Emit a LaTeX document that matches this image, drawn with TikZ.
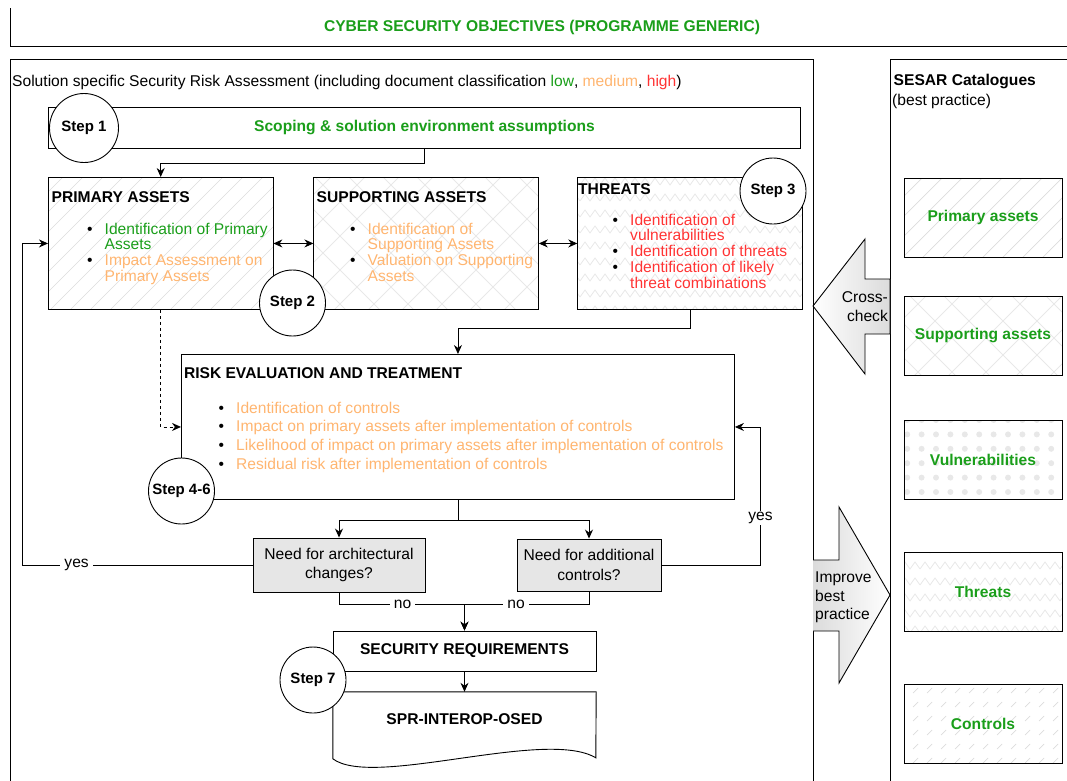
\documentclass[tikz,border=0pt]{standalone}
\usepackage{fontspec}
\setmainfont{Liberation Sans}
\usetikzlibrary{arrows.meta, positioning, patterns, shapes}

\definecolor{low}{HTML}{1A9E1A}
\definecolor{med}{HTML}{FFB570}
\definecolor{high}{HTML}{FF3333}
\definecolor{decfill}{HTML}{E6E6E6}
\definecolor{ptn}{HTML}{DCDCDC}
\definecolor{ptnlight}{HTML}{E8E8E8}

\newcommand{\fs}{\fontsize{15.6pt}{15.75pt}\selectfont}
% bullet item and its continuation line
\newcommand{\li}[2]{\rule{0pt}{12pt}\makebox[17.5pt][l]{\textbullet}\textcolor{#1}{#2}}
\newcommand{\lc}[2]{\rule{0pt}{12pt}\hspace*{17.5pt}\textcolor{#1}{#2}}

% fill patterns
\pgfdeclarepatternformonly{diaglines}{\pgfqpoint{-1pt}{-1pt}}{\pgfqpoint{21pt}{21pt}}{\pgfqpoint{20pt}{20pt}}{%
  \pgfsetlinewidth{0.7pt}\pgfpathmoveto{\pgfqpoint{0pt}{0pt}}\pgfpathlineto{\pgfqpoint{20.1pt}{20.1pt}}\pgfusepath{stroke}}
\pgfdeclarepatternformonly{crossgrid}{\pgfqpoint{-1pt}{-1pt}}{\pgfqpoint{35pt}{35pt}}{\pgfqpoint{34pt}{34pt}}{%
  \pgfsetlinewidth{0.8pt}\pgfpathmoveto{\pgfqpoint{0pt}{0pt}}\pgfpathlineto{\pgfqpoint{34.1pt}{34.1pt}}%
  \pgfpathmoveto{\pgfqpoint{0pt}{34pt}}\pgfpathlineto{\pgfqpoint{34.1pt}{-0.1pt}}\pgfusepath{stroke}}
\pgfdeclarepatternformonly{zigzag}{\pgfqpoint{-1pt}{-1pt}}{\pgfqpoint{21pt}{17pt}}{\pgfqpoint{20pt}{16pt}}{%
  \pgfsetlinewidth{0.8pt}\pgfpathmoveto{\pgfqpoint{0pt}{3pt}}\pgfpathlineto{\pgfqpoint{5pt}{10pt}}%
  \pgfpathlineto{\pgfqpoint{10pt}{3pt}}\pgfpathlineto{\pgfqpoint{15pt}{10pt}}\pgfpathlineto{\pgfqpoint{20pt}{3pt}}\pgfusepath{stroke}}
\pgfdeclarepatternformonly{bigdots}{\pgfqpoint{-4pt}{-4pt}}{\pgfqpoint{4pt}{4pt}}{\pgfqpoint{14.4pt}{14.4pt}}{%
  \pgfpathcircle{\pgfqpoint{0pt}{0pt}}{3pt}\pgfusepath{fill}}
\pgfdeclarepatternformonly{dashdiag}{\pgfqpoint{-1pt}{-1pt}}{\pgfqpoint{15pt}{15pt}}{\pgfqpoint{14pt}{14pt}}{%
  \pgfsetlinewidth{0.7pt}\pgfpathmoveto{\pgfqpoint{3pt}{3pt}}\pgfpathlineto{\pgfqpoint{8pt}{8pt}}\pgfusepath{stroke}}

\tikzstyle{box} = [rectangle, draw, black, line width=0.9pt, inner sep=0pt]
\tikzstyle{head} = [anchor=base west, inner sep=0pt, font=\fs\bfseries]
\tikzstyle{items} = [anchor=north west, inner sep=0pt, align=left]
\tikzstyle{stepc} = [circle, draw, line width=0.9pt, fill=white, minimum size=66pt, inner sep=0pt,
                     font=\fontsize{15pt}{18pt}\selectfont\bfseries]
\tikzstyle{decision} = [box, fill=decfill, align=center, font=\fontsize{15.6pt}{19.7pt}\selectfont]
\tikzstyle{cat} = [box, minimum width=158pt, minimum height=79pt, text=low, font=\fs\bfseries]
\tikzstyle{flow} = [-{Stealth[length=9pt,width=8pt]}, line width=0.9pt]
\tikzstyle{flowboth} = [{Stealth[length=9pt,width=8pt]}-{Stealth[length=9pt,width=8pt]}, line width=0.9pt]
\tikzstyle{lbl} = [fill=white, inner xsep=4pt, inner ysep=1.5pt]

\begin{document}
\begin{tikzpicture}[x=1pt, y=-1pt, font=\fs]
\useasboundingbox (0,0) rectangle (1067,780);
\clip (0,0) rectangle (1067,780);

%Frames
\draw[line width=0.9pt] (10,8) -- (10,46) -- (1080,46);
\node[anchor=base, text=low, font=\fs\bfseries] (objectives) at (542,31) {CYBER SECURITY OBJECTIVES (PROGRAMME GENERIC)};
\draw[line width=0.9pt] (10,59) rectangle (813,800);
\draw[line width=0.9pt] (890,59) rectangle (1080,800);
\node[anchor=base west, inner sep=0pt] (sraTitle) at (12,86) {Solution specific Security Risk Assessment (including document classification \textcolor{low}{low}, \textcolor{med}{medium}, \textcolor{high}{high})};
\node[head] (sesarTitle) at (893.5,85) {SESAR Catalogues};
\node[anchor=base west, inner sep=0pt] (sesarSub) at (892,105) {(best practice)};

%Nodes
\node[box, minimum width=752pt, minimum height=41pt, anchor=north west, text=low, font=\fs\bfseries] (scope) at (48,107) {Scoping \& solution environment assumptions};

\node[box, pattern=diaglines, pattern color=ptn, minimum width=224.5pt, minimum height=132pt, anchor=north west] (prim) at (48,177) {};
\node[box, pattern=crossgrid, pattern color=ptnlight, minimum width=224.5pt, minimum height=132pt, right=40pt of prim] (supp) {};
\node[box, pattern=zigzag, pattern color=ptnlight, minimum width=224.5pt, minimum height=132pt, right=38.5pt of supp] (thr) {};

\node[head] (primHead) at (51.5,202) {PRIMARY ASSETS};
\node[items] (primList) at (87,222) {\li{low}{Identification of Primary}\\ \lc{low}{Assets}\\ \li{med}{Impact Assessment on}\\ \lc{med}{Primary Assets}};
\node[head] (suppHead) at (316.5,202) {SUPPORTING ASSETS};
\node[items] (suppList) at (350,222) {\li{med}{Identification of}\\ \lc{med}{Supporting Assets}\\ \li{med}{Valuation on Supporting}\\ \lc{med}{Assets}};
\node[head] (thrHead) at (578,194) {THREATS};
\node[items] (thrList) at (612.5,213) {\li{high}{Identification of}\\ \lc{high}{vulnerabilities}\\ \li{high}{Identification of threats}\\ \li{high}{Identification of likely}\\ \lc{high}{threat combinations}};

\node[box, minimum width=553pt, minimum height=145pt, anchor=north west] (risk) at (181,354) {};
\node[head] (riskHead) at (183.8,378) {RISK EVALUATION AND TREATMENT};
\node[items, font=\fontsize{15.6pt}{18.7pt}\selectfont] (riskList) at (218.5,401) {\li{med}{Identification of controls}\\ \li{med}{Impact on primary assets after implementation of controls}\\ \li{med}{Likelihood of impact on primary assets after implementation of controls}\\ \li{med}{Residual risk after implementation of controls}};

\node[decision, minimum width=172pt, minimum height=54pt] (arch) at (339,565) {Need for architectural\\changes?};
\node[decision, minimum width=144pt, minimum height=52pt] (add) at (589,565) {Need for additional\\controls?};

\node[box, minimum width=263pt, minimum height=40pt, font=\fs\bfseries] (sec) at (464.5,651) {SECURITY REQUIREMENTS};
\node[inner sep=0pt, minimum width=263pt, minimum height=54pt, font=\fs\bfseries] (doc) at (464.5,719) {SPR-INTEROP-OSED};
\draw[line width=0.9pt] (doc.north east) -- (doc.north west) -- ++(0,67) .. controls +(40,30) and +(-50,-30) .. ++(263,-1) -- cycle;

%Catalogues
\node[cat, pattern=diaglines, pattern color=ptn] (catPrim) at (983,217.5) {Primary assets};
\node[cat, pattern=crossgrid, pattern color=ptnlight] (catSupp) at (983,335.5) {Supporting assets};
\node[cat, pattern=bigdots, pattern color=ptnlight] (catVuln) at (983,459.5) {Vulnerabilities};
\node[cat, pattern=zigzag, pattern color=ptnlight] (catThr) at (983,591.5) {Threats};
\node[cat, pattern=dashdiag, pattern color=ptn] (catCtrl) at (983,723.5) {Controls};

%Big arrows
\shade[left color=white, right color=gray!28, draw, line width=0.9pt] (813,306) -- (865,239) -- (865,279) -- (890,279) -- (890,334) -- (865,334) -- (865,374) -- cycle;
\node[anchor=north east, inner sep=0pt, align=right, font=\fontsize{15.6pt}{19.7pt}\selectfont] (crossTxt) at (888,290) {\rule{0pt}{12pt}Cross-\\check};
\shade[left color=gray!28, right color=white, draw, line width=0.9pt] (813,560) -- (839,560) -- (839,507) -- (890,595) -- (839,683) -- (839,631) -- (813,631);
\node[anchor=north west, inner sep=0pt, align=left, font=\fontsize{15.6pt}{18.8pt}\selectfont] (improveTxt) at (815,570) {\rule{0pt}{12pt}Improve\\best\\practice};

%Lines
\draw[flow] (scope.south) -- ++(0,15) -| (prim.north);
\draw[flowboth] (prim.east) -- (supp.west);
\draw[flowboth] (supp.east) -- (thr.west);
\draw[flow] (thr.south) -- ++(0,19) -| (risk.north);
\draw[flow, dashed] (prim.south) |- (risk.west);
\draw[flow] (risk.south) -- ++(0,21) -| (arch.north);
\draw[flow] (risk.south) -- ++(0,21) -| (add.north);
\draw[flow] (arch.west) -- node[lbl, pos=0.765] (yesArch) {yes} ++(-230,0) |- (prim.west);
\draw[flow] (add.east) -- ++(99,0) |- node[lbl, pos=0.17] (yesAdd) {yes} (risk.east);
\draw[flow] (arch.south) -- ++(0,12) -| node[lbl, pos=0.253] (noArch) {no} (sec.north);
\draw[flow] (add.south) -- ++(0,13) -| node[lbl, pos=0.293] (noAdd) {no} (sec.north);
\draw[flow] (sec.south) -- (doc.north);

%Steps
\node[stepc, minimum size=69pt] (step1) at (84,128) {Step 1};
\node[stepc] (step2) at (292.5,303) {Step 2};
\node[stepc] (step3) at (773,191) {Step 3};
\node[stepc] (step46) at (181.5,491) {Step 4-6};
\node[stepc] (step7) at (313,680) {Step 7};
\end{tikzpicture}
\end{document}
